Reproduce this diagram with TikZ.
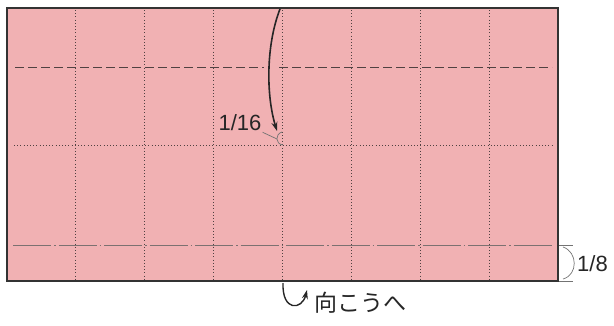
\documentclass[tikz,border=0pt]{standalone}
\usepackage{fontspec}
\setmainfont{Liberation Sans}
\newfontfamily\jpfont{Noto Sans CJK JP}
\usetikzlibrary{arrows.meta,positioning,calc}
\definecolor{paper}{RGB}{241,177,179}
\definecolor{creasegray}{RGB}{80,65,65}

\begin{document}
\begin{tikzpicture}[
    x=1pt, y=-1pt,
    sheet/.style={fill=paper, draw=black!80, line width=1.2pt},
    crease/.style={draw=creasegray, line width=1pt, dash pattern=on 1pt off 2.2pt},
    valley/.style={draw=creasegray, line width=0.9pt, dash pattern=on 9pt off 4pt},
    mountain/.style={draw=creasegray!75, line width=0.9pt, dash pattern=on 38pt off 3pt on 1.5pt off 3pt},
    arrow/.style={-{Stealth[length=9pt,width=6pt]}, line width=1.6pt, black!85},
    measure/.style={draw=black!55, line width=0.7pt},
    label/.style={font=\fontsize{22}{24}\selectfont, inner sep=1pt, text=black!85}
]
\useasboundingbox (0,0) rectangle (614,325);

% the sheet
\draw[sheet] (7,8) rectangle (558,281);

% creases
\foreach \i in {1,...,7}
  \draw[crease] ({7+68.875*\i},10) -- ({7+68.875*\i},280);
\draw[crease] (14,145) -- (553,145);

% folds
\draw[valley] (15,67) -- (264,67);
\draw[valley] (279,67) -- (552,67);
\draw[mountain] (13,245) -- (553,245);

% fold arrow
\coordinate (start) at (280,9);
\coordinate (tip) at (277,131);
\draw[arrow] (start) .. controls (266,45) and (266,95) .. (tip);

% 1/16 mark
\node[label] (q16) at (240,123) {1/16};
\coordinate (m16) at (277,139);
\draw[measure] (q16.south east) -- (m16);
\draw[measure] (282,132) .. controls (275,134) and (275,144) .. (283,145);

% 1/8 mark
\coordinate (t8) at (559,245);
\coordinate (b8) at (559,281);
\draw[measure] (t8) -- ++(14,0);
\draw[measure] (b8) -- ++(14,0);
\draw[measure] (563,247) .. controls (578,252) and (578,275) .. (563,279);
\node[label, anchor=west] (q8) at (576,264) {1/8};

% turn over
\coordinate (ustart) at (283,283);
\coordinate (uend) at (307,290);
\draw[arrow, line width=1.4pt] (ustart) .. controls (282,312) and (302,310) .. (uend);
\node[label, font=\jpfont\fontsize{23}{25}\selectfont, anchor=west] (back) at (313,303) {向こうへ};
\end{tikzpicture}
\end{document}
